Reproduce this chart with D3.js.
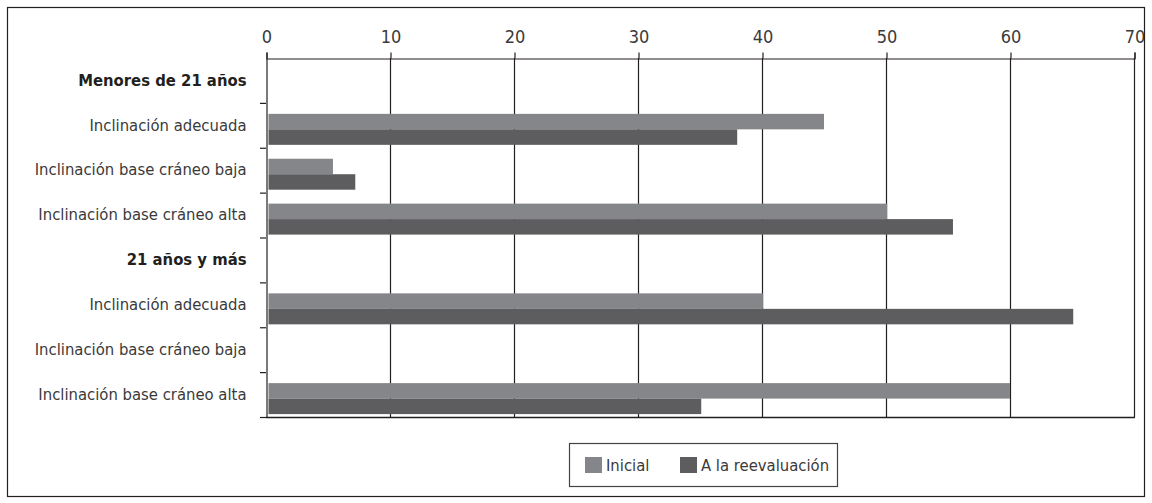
<!DOCTYPE html>
<html>
<head>
<meta charset="utf-8">
<script src="https://cdn.jsdelivr.net/npm/d3@7"></script>
<style>
  html, body { margin: 0; padding: 0; background: #fff; }
  svg text { font-family: "Liberation Sans Narrow", "DejaVu Sans Condensed", "Arial Narrow", sans-serif; fill: #231f20; }
</style>
</head>
<body>
<svg id="chart" width="1152" height="503"></svg>
<script>
// Row labels, top to bottom; group headings carry no bars
const categories = [
  "Menores de 21 años",
  "Inclinación adecuada",
  "Inclinación base cráneo baja",
  "Inclinación base cráneo alta",
  "21 años y más",
  "Inclinación adecuada ",
  "Inclinación base cráneo baja ",
  "Inclinación base cráneo alta "
];
const headings = ["Menores de 21 años", "21 años y más"];
const seriesNames = ["Inicial", "A la reevaluación"];
const inicial      = [null, 45, 5.4, 50.1, null, 40.1, 0, 60];
const reevaluacion = [null, 38, 7.2, 55.4, null, 65.1, 0, 35.1];
const xTicks = [0, 10, 20, 30, 40, 50, 60, 70];

const colors = ["#858689", "#5d5d5f"];
const ink = "#231f20";
const labelSize = 16.5;

const svg = d3.select("#chart");

// Outer frame
svg.append("rect")
  .attr("x", 7.5).attr("y", 7.5)
  .attr("width", 1137).attr("height", 489)
  .attr("fill", "none").attr("stroke", ink).attr("stroke-width", 1.2);

const plot = { left: 266, right: 1134, top: 58, bottom: 417 };

const x = d3.scaleLinear().domain([0, 70]).range([plot.left, plot.right]);
const y = d3.scaleBand().domain(categories).range([plot.top, plot.bottom]).padding(0);
const sub = d3.scaleBand().domain(seriesNames)
  .range([y.bandwidth() * 0.245, y.bandwidth() * 0.935]).padding(0);

// Vertical gridlines
svg.append("g").selectAll("line").data(xTicks.filter(d => d > 0)).join("line")
  .attr("x1", d => x(d) + 0.5).attr("x2", d => x(d) + 0.5)
  .attr("y1", plot.top).attr("y2", plot.bottom)
  .attr("stroke", ink).attr("stroke-width", 1.2);

// Bars
const rows = categories.map((c, i) => ({ c, vals: [inicial[i], reevaluacion[i]] }))
  .filter(r => !headings.includes(r.c));

const g = svg.append("g");
rows.forEach(r => {
  r.vals.forEach((v, k) => {
    if (!v) return;
    g.append("rect")
      .attr("x", x(0) + 2.5)
      .attr("y", y(r.c) + sub(seriesNames[k]))
      .attr("width", x(v) - x(0) - 2.5)
      .attr("height", sub.bandwidth())
      .attr("fill", colors[k]);
  });
});

// Top value axis
const xAxis = d3.axisTop(x).tickValues(xTicks).tickSize(6).tickPadding(10).tickFormat(d3.format("d"));
const ax = svg.append("g").attr("transform", `translate(0.5,${plot.top + 0.5})`).call(xAxis);
ax.select(".domain").attr("stroke", ink).attr("stroke-width", 1.2);
ax.selectAll(".tick line").attr("stroke", ink).attr("stroke-width", 1.2);
ax.selectAll(".tick text").attr("font-size", 18).style("fill", "#3a3a3a");

// Bottom border
svg.append("line")
  .attr("x1", plot.left).attr("x2", plot.right + 1)
  .attr("y1", plot.bottom + 0.5).attr("y2", plot.bottom + 0.5)
  .attr("stroke", ink).attr("stroke-width", 1.6);

// Left category axis with ticks between rows
const yAxis = d3.axisLeft(y).tickSize(0).tickPadding(20);
const ay = svg.append("g").attr("transform", `translate(${plot.left + 0.5},0)`).call(yAxis);
ay.select(".domain").attr("stroke", ink).attr("stroke-width", 1.2);
ay.selectAll(".tick text")
  .attr("font-size", labelSize)
  .attr("font-weight", d => headings.includes(d) ? "bold" : "normal")
  .style("fill", d => headings.includes(d) ? ink : "#3a3a3a")
  .text(d => d.trim());

const boundaries = categories.slice(1).map(c => y(c)).concat([plot.bottom]);
svg.append("g").selectAll("line").data(boundaries).join("line")
  .attr("x1", plot.left - 6).attr("x2", plot.left)
  .attr("y1", d => d + 0.5).attr("y2", d => d + 0.5)
  .attr("stroke", ink).attr("stroke-width", 1.2);

// Legend
const lg = svg.append("g");
lg.append("rect")
  .attr("x", 569.5).attr("y", 443.5).attr("width", 268).attr("height", 43)
  .attr("fill", "#fff").attr("stroke", "#444").attr("stroke-width", 1.2);
const legendItems = [
  { name: seriesNames[0], color: colors[0], x: 585 },
  { name: seriesNames[1], color: colors[1], x: 680 }
];
legendItems.forEach(it => {
  lg.append("rect").attr("x", it.x).attr("y", 457).attr("width", 17).attr("height", 16).attr("fill", it.color);
  lg.append("text").attr("x", it.x + 21).attr("y", 471)
    .attr("font-size", labelSize).style("fill", "#3a3a3a").text(it.name);
});
</script>
</body>
</html>
